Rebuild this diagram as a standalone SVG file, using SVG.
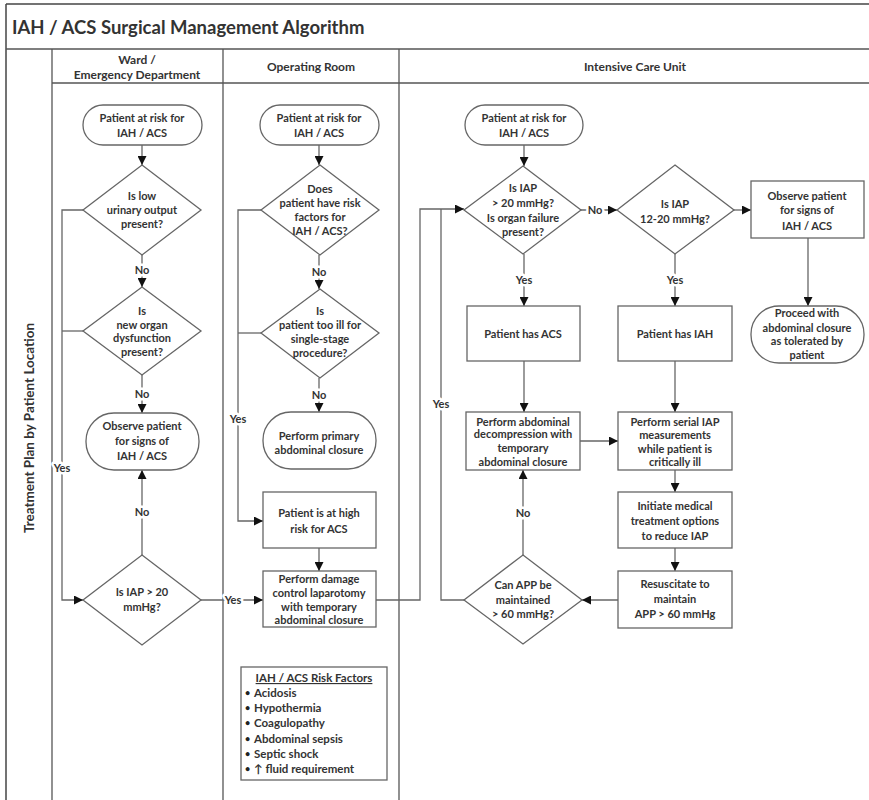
<svg xmlns="http://www.w3.org/2000/svg" width="869" height="800" viewBox="0 0 869 800">
<defs>
<marker id="ah" viewBox="0 0 10 10" refX="10" refY="5" markerWidth="9" markerHeight="9" markerUnits="userSpaceOnUse" orient="auto">
<path d="M0,0 L10,5 L0,10 z" fill="#111"/>
</marker>
<style>
.frame{stroke:#444;stroke-width:1.5;fill:none}
.lane{stroke:#555;stroke-width:1.3;fill:none}
.shape{fill:#fff;stroke:#666;stroke-width:1.3}
.conn{fill:none;stroke:#666;stroke-width:1.3}
.arr{marker-end:url(#ah)}
text{font-family:Lato,"Liberation Sans",sans-serif;font-weight:700;fill:#333}
.t{font-size:11px;text-anchor:middle}
.hdr{font-size:12px;text-anchor:middle}
.lbl{font-size:11px;text-anchor:middle;stroke:#fff;stroke-width:5;paint-order:stroke;stroke-linejoin:round}
.rf{font-size:11.5px}
.bu{font-size:9px;fill:#222}
</style>
</defs>
<rect x="0" y="0" width="869" height="800" fill="#fff"/>

<g id="frame">
<line class="frame" x1="6" y1="4" x2="869" y2="4"/>
<line class="frame" x1="6" y1="4" x2="6" y2="800"/>
<line class="lane" x1="6" y1="49" x2="869" y2="49"/>
<line class="lane" x1="52" y1="83" x2="869" y2="83"/>
<line class="lane" x1="52" y1="49" x2="52" y2="800"/>
<line class="lane" x1="223" y1="49" x2="223" y2="800"/>
<line class="lane" x1="399" y1="49" x2="399" y2="800"/>
<text x="12" y="34" style="font-size:18.5px">IAH / ACS Surgical Management Algorithm</text>
<text class="hdr" x="137" y="64">Ward /</text>
<text class="hdr" x="137" y="79">Emergency Department</text>
<text class="hdr" x="311" y="71">Operating Room</text>
<text class="hdr" x="635" y="71">Intensive Care Unit</text>
<text class="hdr" style="font-size:13.5px" transform="translate(34,428) rotate(-90)">Treatment Plan by Patient Location</text>
</g>

<g id="connectors">
<line class="conn arr" x1="142" y1="145" x2="142" y2="165"/>
<line class="conn arr" x1="142" y1="255" x2="142" y2="287"/>
<line class="conn arr" x1="142" y1="375" x2="142" y2="413"/>
<line class="conn arr" x1="142" y1="555" x2="142" y2="470"/>
<polyline class="conn arr" points="83,210 62,210 62,600 83,600"/>
<line class="conn" x1="83" y1="331" x2="62" y2="331"/>
<line class="conn arr" x1="201" y1="600" x2="263" y2="600"/>

<line class="conn arr" x1="319" y1="145" x2="319" y2="165"/>
<line class="conn arr" x1="319" y1="255" x2="319" y2="289"/>
<line class="conn arr" x1="319" y1="378" x2="319" y2="412"/>
<polyline class="conn arr" points="261,210 238,210 238,521 263,521"/>
<line class="conn" x1="261" y1="333" x2="238" y2="333"/>
<line class="conn arr" x1="319" y1="548" x2="319" y2="571"/>
<polyline class="conn arr" points="376,600 420,600 420,209 464,209"/>

<line class="conn arr" x1="524" y1="145" x2="524" y2="166"/>
<line class="conn arr" x1="581" y1="210" x2="617" y2="210"/>
<line class="conn arr" x1="734" y1="210" x2="751" y2="210"/>
<line class="conn arr" x1="808" y1="238" x2="808" y2="306"/>
<line class="conn arr" x1="524" y1="254" x2="524" y2="306"/>
<line class="conn arr" x1="675" y1="254" x2="675" y2="306"/>
<line class="conn arr" x1="524" y1="361" x2="524" y2="412"/>
<line class="conn arr" x1="675" y1="361" x2="675" y2="412"/>
<line class="conn arr" x1="580" y1="441" x2="618" y2="441"/>
<line class="conn arr" x1="675" y1="470" x2="675" y2="492"/>
<line class="conn arr" x1="675" y1="548" x2="675" y2="571"/>
<line class="conn arr" x1="618" y1="600" x2="582" y2="600"/>
<line class="conn arr" x1="523" y1="555" x2="523" y2="470"/>
<polyline class="conn" points="464,600 441,600 441,209"/>

<text class="lbl" x="142" y="274">No</text>
<text class="lbl" x="142" y="398">No</text>
<text class="lbl" x="142" y="516">No</text>
<text class="lbl" x="62" y="472">Yes</text>
<text class="lbl" x="233" y="604">Yes</text>
<text class="lbl" x="319" y="276">No</text>
<text class="lbl" x="319" y="399">No</text>
<text class="lbl" x="238" y="423">Yes</text>
<text class="lbl" x="595" y="214">No</text>
<text class="lbl" x="524" y="284">Yes</text>
<text class="lbl" x="675" y="284">Yes</text>
<text class="lbl" x="523" y="517">No</text>
<text class="lbl" x="441" y="408">Yes</text>
</g>

<g id="ward-start">
<rect class="shape" x="83" y="105" width="119" height="40" rx="20"/>
<text class="t" x="142" y="122">Patient at risk for</text>
<text class="t" x="142" y="137">IAH / ACS</text>
</g>
<g id="ward-urinary">
<polygon class="shape" points="142,165 201,210 142,255 83,210"/>
<text class="t" x="142" y="200">Is low</text>
<text class="t" x="142" y="214">urinary output</text>
<text class="t" x="142" y="228">present?</text>
</g>
<g id="ward-organ">
<polygon class="shape" points="142,287 201,331 142,375 83,331"/>
<text class="t" x="142" y="315">Is</text>
<text class="t" x="142" y="329">new organ</text>
<text class="t" x="142" y="342">dysfunction</text>
<text class="t" x="142" y="356">present?</text>
</g>
<g id="ward-observe">
<rect class="shape" x="86" y="413" width="113" height="57" rx="28"/>
<text class="t" x="142" y="430">Observe patient</text>
<text class="t" x="142" y="445">for signs of</text>
<text class="t" x="142" y="460">IAH / ACS</text>
</g>
<g id="ward-iap">
<polygon class="shape" points="142,555 201,600 142,645 83,600"/>
<text class="t" x="142" y="596">Is IAP &gt; 20</text>
<text class="t" x="142" y="611">mmHg?</text>
</g>

<g id="or-start">
<rect class="shape" x="260" y="105" width="119" height="40" rx="20"/>
<text class="t" x="319" y="122">Patient at risk for</text>
<text class="t" x="319" y="137">IAH / ACS</text>
</g>
<g id="or-risk">
<polygon class="shape" points="320,165 379,210 320,255 261,210"/>
<text class="t" x="320" y="193">Does</text>
<text class="t" x="320" y="207">patient have risk</text>
<text class="t" x="320" y="221">factors for</text>
<text class="t" x="320" y="235">IAH / ACS?</text>
</g>
<g id="or-ill">
<polygon class="shape" points="320,289 379,333 320,378 261,333"/>
<text class="t" x="320" y="315">Is</text>
<text class="t" x="320" y="329">patient too ill for</text>
<text class="t" x="320" y="343">single-stage</text>
<text class="t" x="320" y="357">procedure?</text>
</g>
<g id="or-primary">
<rect class="shape" x="263" y="412" width="113" height="57" rx="28"/>
<text class="t" x="319" y="440">Perform primary</text>
<text class="t" x="319" y="454">abdominal closure</text>
</g>
<g id="or-highrisk">
<rect class="shape" x="263" y="492" width="113" height="56"/>
<text class="t" x="319" y="517">Patient is at high</text>
<text class="t" x="319" y="533">risk for ACS</text>
</g>
<g id="or-damage">
<rect class="shape" x="263" y="571" width="113" height="56"/>
<text class="t" x="319" y="583">Perform damage</text>
<text class="t" x="319" y="597">control laparotomy</text>
<text class="t" x="319" y="611">with temporary</text>
<text class="t" x="319" y="624">abdominal closure</text>
</g>
<g id="risk-factors">
<rect class="shape" x="241" y="667" width="146" height="113"/>
<text class="rf" x="314" y="682" text-anchor="middle" text-decoration="underline">IAH / ACS Risk Factors</text>
<text class="bu" x="245" y="696">•</text><text class="rf" x="254" y="697">Acidosis</text>
<text class="bu" x="245" y="711">•</text><text class="rf" x="254" y="712">Hypothermia</text>
<text class="bu" x="245" y="726">•</text><text class="rf" x="254" y="727">Coagulopathy</text>
<text class="bu" x="245" y="742">•</text><text class="rf" x="254" y="743">Abdominal sepsis</text>
<text class="bu" x="245" y="757">•</text><text class="rf" x="254" y="758">Septic shock</text>
<text class="bu" x="245" y="772">•</text><text class="rf" x="254" y="773">↑ fluid requirement</text>
</g>

<g id="icu-start">
<rect class="shape" x="465" y="105" width="118" height="40" rx="20"/>
<text class="t" x="524" y="122">Patient at risk for</text>
<text class="t" x="524" y="137">IAH / ACS</text>
</g>
<g id="icu-iap20">
<polygon class="shape" points="523,166 581,210 523,254 464,210"/>
<text class="t" x="523" y="192">Is IAP</text>
<text class="t" x="523" y="207">&gt; 20 mmHg?</text>
<text class="t" x="523" y="222">Is organ failure</text>
<text class="t" x="523" y="236">present?</text>
</g>
<g id="icu-iap12">
<polygon class="shape" points="675,165 734,210 675,254 617,210"/>
<text class="t" x="675" y="208">Is IAP</text>
<text class="t" x="675" y="223">12-20 mmHg?</text>
</g>
<g id="icu-observe">
<rect class="shape" x="751" y="181" width="113" height="57"/>
<text class="t" x="807" y="200">Observe patient</text>
<text class="t" x="807" y="214">for signs of</text>
<text class="t" x="807" y="230">IAH / ACS</text>
</g>
<g id="icu-proceed">
<rect class="shape" x="751" y="306" width="113" height="57" rx="28"/>
<text class="t" x="807" y="317">Proceed with</text>
<text class="t" x="807" y="332">abdominal closure</text>
<text class="t" x="807" y="345">as tolerated by</text>
<text class="t" x="807" y="359">patient</text>
</g>
<g id="icu-acs">
<rect class="shape" x="467" y="306" width="113" height="55"/>
<text class="t" x="523" y="338">Patient has ACS</text>
</g>
<g id="icu-iah">
<rect class="shape" x="618" y="306" width="114" height="55"/>
<text class="t" x="675" y="338">Patient has IAH</text>
</g>
<g id="icu-decompress">
<rect class="shape" x="466" y="412" width="114" height="58"/>
<text class="t" x="523" y="426">Perform abdominal</text>
<text class="t" x="523" y="438">decompression with</text>
<text class="t" x="523" y="452">temporary</text>
<text class="t" x="523" y="466">abdominal closure</text>
</g>
<g id="icu-serial">
<rect class="shape" x="618" y="412" width="114" height="58"/>
<text class="t" x="675" y="426">Perform serial IAP</text>
<text class="t" x="675" y="439">measurements</text>
<text class="t" x="675" y="453">while patient is</text>
<text class="t" x="675" y="466">critically ill</text>
</g>
<g id="icu-initiate">
<rect class="shape" x="618" y="492" width="114" height="56"/>
<text class="t" x="675" y="510">Initiate medical</text>
<text class="t" x="675" y="525">treatment options</text>
<text class="t" x="675" y="540">to reduce IAP</text>
</g>
<g id="icu-resus">
<rect class="shape" x="618" y="571" width="114" height="57"/>
<text class="t" x="675" y="588">Resuscitate to</text>
<text class="t" x="675" y="603">maintain</text>
<text class="t" x="675" y="618">APP &gt; 60 mmHg</text>
</g>
<g id="icu-app">
<polygon class="shape" points="523,555 582,600 523,644 464,600"/>
<text class="t" x="523" y="589">Can APP be</text>
<text class="t" x="523" y="604">maintained</text>
<text class="t" x="523" y="618">&gt; 60 mmHg?</text>
</g>
</svg>
